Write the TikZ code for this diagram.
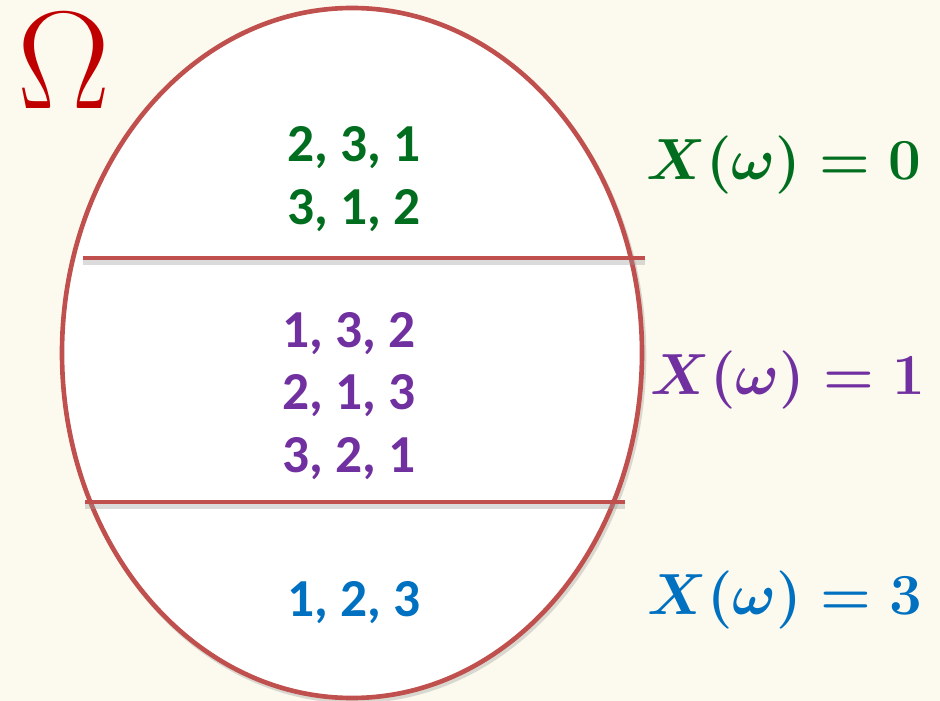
\documentclass[tikz,border=0pt]{standalone}
\usepackage{fix-cm}
\usepackage{fontspec}
\setmainfont{Carlito}
\definecolor{bgcream}{HTML}{FCFAEE}
\definecolor{omegared}{HTML}{C00000}
\definecolor{rimred}{HTML}{C0504D}
\definecolor{zerogreen}{HTML}{006E1E}
\definecolor{onepurple}{HTML}{7030A0}
\definecolor{threeblue}{HTML}{0070C0}
\begin{document}
\begin{tikzpicture}[x=0.025cm,y=-0.025cm,
    rim/.style={draw=rimred, line width=3.3pt},
    rimshadow/.style={draw=black!40, line width=3.3pt, opacity=.35},
    perm/.style={font=\fontsize{38}{44.6}\selectfont\bfseries, align=center, inner sep=0pt},
    value/.style={font=\fontsize{41.3}{50}\selectfont\boldmath, inner sep=0pt}]
   \fill[bgcream] (0,0) rectangle (940,701);
   \useasboundingbox (0,0) rectangle (940,701);
   % sample space
   \draw[rimshadow] (354,356) ellipse [x radius=290, y radius=345];
   \draw[rim, fill=white] (352,353) ellipse [x radius=290, y radius=345];
   \node[text=omegared, font=\fontsize{99}{99}\selectfont, inner sep=0pt] (omega) at (64,61) {$\Omega$};
   % cuts between the events
   \foreach \n/\y/\w/\e in {top/258/83/645, low/502/85/625} {
     \coordinate (\n-w) at (\w,\y);
     \coordinate (\n-e) at (\e,\y);
     \draw[rimshadow] ([yshift=-3pt]\n-w) -- ([yshift=-3pt]\n-e);
     \draw[rim] (\n-w) -- (\n-e);
   }
   % permutations
   \node[perm, text=zerogreen] (zero) at (354,179) {2, 3, 1\\3, 1, 2};
   \node[perm, text=onepurple] (one) at (349,396) {1, 3, 2\\2, 1, 3\\3, 2, 1};
   \node[perm, text=threeblue] (three) at (354,603) {1, 2, 3};
   % values of X
   \node[value, text=zerogreen] (xzero) at (784,165) {$X(\omega)=\mathbf{0}$};
   \node[value, text=onepurple] (xone) at (788,380) {$X(\omega)=\mathbf{1}$};
   \node[value, text=threeblue] (xthree) at (785,600) {$X(\omega)=\mathbf{3}$};
\end{tikzpicture}
\end{document}
